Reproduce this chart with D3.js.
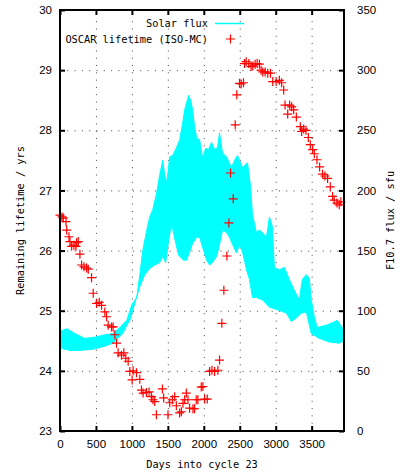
<!DOCTYPE html>
<html>
<head>
<meta charset="utf-8">
<script src="https://cdn.jsdelivr.net/npm/d3@7"></script>
<style>
  body { margin: 0; background: #fff; }
  .mono { font-family: "DejaVu Sans Mono", monospace; font-size: 10.3px; fill: #000; }
  .tick text { font-family: "Liberation Sans", Arial, sans-serif; font-size: 11.5px; fill: #000; }
</style>
</head>
<body>
<svg id="chart" width="395" height="474"></svg>
<script>
// tick values
var xTicks = [0, 500, 1000, 1500, 2000, 2500, 3000, 3500];
var lifeTicks = [23, 24, 25, 26, 27, 28, 29, 30];
var fluxTicks = [0, 50, 100, 150, 200, 250, 300, 350];

// F10.7 solar flux, upper and lower edge of the daily band
var fluxTopDay = [0, 97, 208, 347, 485, 624, 735, 832, 929, 999, 1068, 1110, 1151, 1207, 1248, 1290, 1345, 1387, 1429, 1456, 1484, 1526, 1567, 1623, 1664, 1706, 1734, 1761, 1789, 1817, 1845, 1872, 1900, 1942, 1983, 2025, 2067, 2108, 2150, 2192, 2219, 2261, 2316, 2386, 2427, 2469, 2538, 2608, 2649, 2677, 2732, 2774, 2816, 2871, 2913, 2954, 2982, 3051, 3121, 3190, 3259, 3329, 3370, 3426, 3468, 3495, 3537, 3578, 3703, 3786, 3856, 3925, 3940];
var fluxTop = [83, 85, 81, 77, 78, 80, 81, 86, 92, 105, 111, 130, 150, 167, 178, 184, 198, 213, 225, 213, 206, 228, 229, 236, 242, 256, 267, 273, 279, 275, 267, 253, 244, 242, 227, 235, 234, 240, 234, 236, 248, 231, 228, 219, 225, 229, 219, 223, 204, 180, 165, 167, 165, 161, 178, 170, 136, 134, 136, 126, 117, 109, 126, 130, 127, 109, 95, 86, 88, 90, 92, 86, 86];
var fluxLowDay = [0, 139, 277, 458, 596, 735, 804, 874, 929, 971, 1040, 1110, 1179, 1248, 1318, 1387, 1429, 1470, 1512, 1553, 1595, 1651, 1720, 1761, 1803, 1845, 1900, 1942, 1983, 2039, 2081, 2122, 2178, 2219, 2261, 2316, 2358, 2400, 2455, 2497, 2538, 2594, 2635, 2677, 2732, 2816, 2913, 3010, 3148, 3218, 3287, 3357, 3426, 3495, 3606, 3745, 3884, 3940];
var fluxLow = [69, 67, 67, 68, 70, 73, 77, 81, 88, 92, 106, 120, 130, 135, 138, 140, 145, 140, 159, 172, 160, 146, 142, 142, 149, 156, 161, 161, 153, 142, 138, 140, 145, 155, 167, 165, 161, 155, 148, 155, 149, 134, 126, 111, 111, 109, 103, 101, 98, 91, 94, 98, 99, 81, 77, 74, 73, 75];

// OSCAR (ISO-MC) remaining lifetime
var oscarDay = [0, 28, 46, 83, 93, 125, 139, 162, 194, 222, 231, 254, 277, 300, 333, 370, 393, 439, 462, 508, 545, 578, 624, 648, 670, 717, 739, 763, 786, 809, 855, 888, 915, 948, 971, 1003, 1017, 1064, 1110, 1133, 1156, 1202, 1239, 1271, 1294, 1318, 1341, 1424, 1442, 1502, 1526, 1563, 1595, 1618, 1664, 1688, 1710, 1734, 1757, 1780, 1803, 1849, 1872, 1895, 1918, 1965, 1988, 2011, 2048, 2081, 2113, 2150, 2196, 2219, 2251, 2279, 2321, 2349, 2372, 2409, 2437, 2459, 2497, 2520, 2552, 2566, 2589, 2626, 2658, 2681, 2714, 2742, 2774, 2797, 2820, 2853, 2889, 2927, 2959, 3006, 3051, 3083, 3111, 3130, 3167, 3194, 3222, 3250, 3287, 3343, 3361, 3389, 3422, 3454, 3481, 3514, 3537, 3574, 3611, 3652, 3685, 3722, 3759, 3791, 3814, 3852, 3884, 3907];
var oscarLife = [26.59, 26.56, 26.54, 26.48, 26.34, 26.23, 26.15, 26.07, 26.09, 26.07, 26.13, 26.15, 25.94, 25.76, 25.73, 25.71, 25.69, 25.55, 25.29, 25.12, 25.14, 25.09, 24.98, 24.90, 24.76, 24.73, 24.73, 24.60, 24.46, 24.30, 24.26, 24.30, 24.21, 24.16, 23.99, 23.85, 24.00, 23.97, 23.86, 23.68, 23.63, 23.64, 23.65, 23.57, 23.52, 23.49, 23.27, 23.70, 23.55, 23.27, 23.47, 23.52, 23.57, 23.42, 23.30, 23.32, 23.46, 23.52, 23.63, 23.52, 23.38, 23.37, 23.37, 23.52, 23.52, 23.73, 23.74, 23.53, 23.53, 23.99, 24.01, 23.99, 24.01, 24.18, 24.79, 25.34, 25.91, 26.46, 27.29, 26.86, 28.09, 28.59, 28.78, 28.77, 28.79, 29.11, 29.14, 29.11, 29.06, 29.07, 29.10, 29.11, 29.10, 29.00, 28.97, 28.97, 28.95, 28.95, 28.81, 28.81, 28.83, 28.79, 28.67, 28.42, 28.27, 28.42, 28.39, 28.34, 28.22, 28.06, 27.98, 28.02, 28.00, 27.88, 27.76, 27.68, 27.61, 27.51, 27.39, 27.27, 27.24, 27.20, 27.06, 26.90, 26.84, 26.79, 26.76, 26.81];

var svg = d3.select("#chart"),
    margin = {top: 10, left: 60, bottom: 43, right: 51},
    width = +svg.attr("width"),
    height = +svg.attr("height");

var x = d3.scaleLinear().domain([0, 3950]).range([margin.left, width - margin.right]);
var y = d3.scaleLinear().domain([23, 30]).range([height - margin.bottom, margin.top]);
var y2 = d3.scaleLinear().domain([0, 350]).range([height - margin.bottom, margin.top]);

// dotted grid
var grid = svg.append("g").attr("stroke", "#444").attr("stroke-width", 1).attr("stroke-dasharray", "1,6.3");
grid.selectAll(".gx").data(xTicks.slice(1)).enter().append("line")
  .attr("x1", d => x(d) + 0.5).attr("x2", d => x(d) + 0.5)
  .attr("y1", y(23)).attr("y2", y(30));
grid.selectAll(".gy").data(lifeTicks.slice(1, -1)).enter().append("line")
  .attr("y1", d => y(d) + 0.5).attr("y2", d => y(d) + 0.5)
  .attr("x1", x(0)).attr("x2", x(3950));

// solar flux band
var upperEdge = fluxTopDay.map((d, i) => [x(d), y2(fluxTop[i])]);
var lowerEdge = fluxLowDay.map((d, i) => [x(d), y2(fluxLow[i])]).reverse();
svg.append("path")
  .attr("d", d3.line()(upperEdge.concat(lowerEdge)) + "Z")
  .attr("fill", "#00ffff")
  .attr("stroke", "#00ffff")
  .attr("stroke-width", 1);

// OSCAR lifetime points
var plus = (px, py) => `M${px - 4.5},${py}H${px + 4.5}M${px},${py - 4.5}V${py + 4.5}`;
svg.append("g").selectAll("path")
  .data(oscarDay.map((d, i) => [d, oscarLife[i]]))
  .enter().append("path")
  .attr("d", d => plus(x(d[0]), y(d[1])))
  .attr("stroke", "#ff0000")
  .attr("stroke-width", 1.2)
  .attr("fill", "none");

// axes (gnuplot style: inward ticks, mirrored)
var xAxis = svg.append("g").attr("transform", `translate(0,${y(23)})`)
  .call(d3.axisBottom(x).tickValues(xTicks).tickSize(-5).tickPadding(9).tickFormat(d3.format("d")));
var xTop = svg.append("g").attr("transform", `translate(0,${y(30)})`)
  .call(d3.axisTop(x).tickValues(xTicks).tickSize(-5).tickFormat(""));
var yAxis = svg.append("g").attr("transform", `translate(${x(0)},0)`)
  .call(d3.axisLeft(y).tickValues(lifeTicks).tickSize(-5).tickPadding(8).tickFormat(d3.format("d")));
var y2Axis = svg.append("g").attr("transform", `translate(${x(3950)},0)`)
  .call(d3.axisRight(y2).tickValues(fluxTicks).tickSize(-5).tickPadding(13).tickFormat(d3.format("d")));
svg.selectAll(".domain").remove();
svg.selectAll(".tick line").attr("stroke", "#000").attr("stroke-width", 2);

// frame
svg.append("rect")
  .attr("x", x(0)).attr("y", y(30))
  .attr("width", x(3950) - x(0)).attr("height", y(23) - y(30))
  .attr("fill", "none").attr("stroke", "#000").attr("stroke-width", 2);

// axis titles
svg.append("text").attr("class", "mono")
  .attr("x", (x(0) + x(3950)) / 2).attr("y", 468)
  .attr("text-anchor", "middle").text("Days into cycle 23");
svg.append("text").attr("class", "mono")
  .attr("transform", `translate(24,${(y(23) + y(30)) / 2}) rotate(-90)`)
  .attr("text-anchor", "middle").text("Remaining lifetime / yrs");
svg.append("text").attr("class", "mono")
  .attr("transform", `translate(394,${(y(23) + y(30)) / 2}) rotate(-90)`)
  .attr("text-anchor", "middle").text("F10.7 flux / sfu");

// legend
var legend = svg.append("g");
legend.append("text").attr("class", "mono")
  .attr("x", 208).attr("y", 27).attr("text-anchor", "end").text("Solar flux");
legend.append("line")
  .attr("x1", 215).attr("x2", 244).attr("y1", 23.5).attr("y2", 23.5)
  .attr("stroke", "#00ffff").attr("stroke-width", 1.5);
legend.append("text").attr("class", "mono")
  .attr("x", 208).attr("y", 43).attr("text-anchor", "end").text("OSCAR lifetime (ISO-MC)");
legend.append("path")
  .attr("d", plus(230.5, 39))
  .attr("stroke", "#ff0000").attr("stroke-width", 1.2);
</script>
</body>
</html>
